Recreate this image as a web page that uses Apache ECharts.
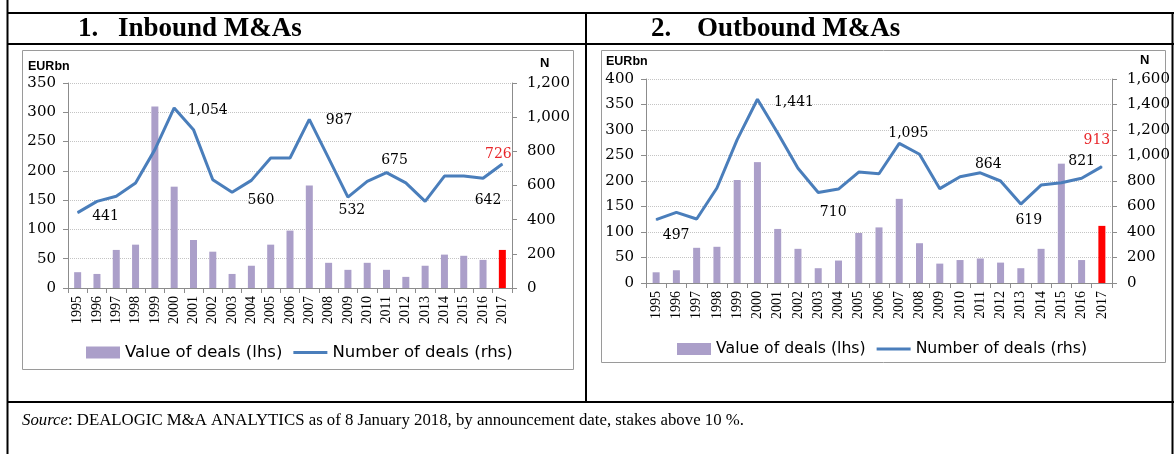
<!DOCTYPE html>
<html>
<head>
<meta charset="utf-8">
<script src="https://cdn.jsdelivr.net/npm/echarts@6/dist/echarts.min.js"></script>
<style>
  html, body { margin: 0; padding: 0; background: #fff; }
  #main { width: 1174px; height: 454px; }
</style>
</head>
<body>
<div id="main"></div>
<script>
var years = ['1995', '1996', '1997', '1998', '1999', '2000', '2001', '2002', '2003', '2004', '2005', '2006',
  '2007', '2008', '2009', '2010', '2011', '2012', '2013', '2014', '2015', '2016', '2017']

// 1. Inbound M&As
var inboundValue = [27, 24, 65, 74, 310, 173, 82, 62, 24, 38, 74, 98, 175, 43, 31, 43, 31, 19, 38, 57, 55, 48, 65]
var inboundNumber = [441, 507, 537, 615, 810, 1054, 927, 634, 560, 630, 761, 761, 987, 760, 532, 624, 675, 615, 507, 655, 655, 642, 726]

// 2. Outbound M&As
var outboundValue = [21, 25, 69, 71, 202, 237, 106, 67, 29, 44, 98, 109, 165, 78, 38, 45, 48, 40, 29, 67, 234, 45, 112]
var outboundNumber = [497, 554, 502, 745, 1124, 1441, 1176, 900, 710, 737, 870, 857, 1095, 1010, 740, 833, 864, 800, 619, 768, 786, 821, 913]

var titles = ['Inbound M&As', 'Outbound M&As']
var legendNames = ['Value of deals (lhs)', 'Number of deals (rhs)']

var BAR = '#ab9fc9'
var LINE = '#4a7ebb'
var RED = '#e8262a'
var lastIdx = years.length - 1

// which points carry a value label, and where it sits
var inboundLabels = {
  0: { position: 'right', offset: [9, 4] },
  5: { position: 'right', offset: [8, 2] },
  8: { position: 'right', offset: [10, 8] },
  12: { position: 'right', offset: [11, 1] },
  14: { position: 'bottom', offset: [4, 1] },
  16: { position: 'top', offset: [8, 0] },
  21: { position: 'bottom', offset: [5, 10] },
  22: { position: 'top', offset: [-4, 3], color: RED }
}
var outboundLabels = {
  0: { position: 'bottom', offset: [20, 3] },
  5: { position: 'right', offset: [11, 3] },
  8: { position: 'bottom', offset: [15, 7] },
  12: { position: 'top', offset: [9, 2] },
  16: { position: 'top', offset: [8, 4] },
  18: { position: 'bottom', offset: [8, 4] },
  21: { position: 'top', offset: [0, -4] },
  22: { position: 'top', offset: [-5, -14], color: RED }
}

function fmt(v) {
  return Number(v).toLocaleString('en-US')
}

function barData(values) {
  return values.map(function (v, i) {
    return i === lastIdx ? { value: v, itemStyle: { color: '#ff0000' } } : v
  })
}

function lineData(values, labels) {
  return values.map(function (v, i) {
    var l = labels[i]
    if (!l) return v
    return {
      value: v,
      label: {
        show: true,
        position: l.position,
        offset: l.offset,
        color: l.color || '#000',
        fontFamily: 'DejaVu Serif',
        fontSize: 14,
        formatter: function (p) { return fmt(p.value) }
      }
    }
  })
}

var numFont = { fontFamily: 'DejaVu Serif', fontSize: 15, color: '#000' }
var axisGray = '#8c8c8c'

function xAxis(gi) {
  return {
    type: 'category',
    gridIndex: gi,
    data: years,
    axisLine: { lineStyle: { color: axisGray } },
    axisTick: { show: true, length: 5, interval: 0, lineStyle: { color: axisGray } },
    axisLabel: { interval: 0, rotate: 90, margin: 8, fontFamily: 'Liberation Serif', fontSize: 14, color: '#000' }
  }
}

function yLeft(gi, max) {
  return {
    type: 'value',
    gridIndex: gi,
    min: 0,
    max: max,
    interval: 50,
    axisLine: { show: true, lineStyle: { color: axisGray } },
    axisTick: { show: true, length: 5, lineStyle: { color: axisGray } },
    axisLabel: Object.assign({ margin: 12 }, numFont),
    splitLine: { show: true, lineStyle: { color: '#c4c4c4', type: 'dotted' } }
  }
}

function yRight(gi, max) {
  return {
    type: 'value',
    gridIndex: gi,
    position: 'right',
    min: 0,
    max: max,
    interval: 200,
    axisLine: { show: true, lineStyle: { color: axisGray } },
    axisTick: { show: true, length: 5, lineStyle: { color: axisGray } },
    axisLabel: Object.assign({ margin: 15, formatter: fmt }, numFont),
    splitLine: { show: false }
  }
}

function legend(left, top, size) {
  return {
    left: left,
    top: top,
    padding: 0,
    itemWidth: 34,
    itemHeight: 12,
    itemGap: 11,
    data: [
      { name: legendNames[0], icon: 'rect' },
      { name: legendNames[1], icon: 'path://M0,0L34,0L34,3L0,3Z' }
    ],
    textStyle: { fontFamily: 'DejaVu Sans', fontSize: size, color: '#000' }
  }
}

function line(x1, y1, x2, y2) {
  return { type: 'line', shape: { x1: x1, y1: y1, x2: x2, y2: y2 }, style: { stroke: '#000', lineWidth: 2 }, silent: true }
}

function txt(x, y, text, font, extra) {
  return { type: 'text', x: x, y: y, style: Object.assign({ text: text, font: font, fill: '#000', textVerticalAlign: 'middle' }, extra || {}), silent: true }
}

function lineSeries(xi, yi, values, labels) {
  return {
    name: legendNames[1],
    type: 'line',
    xAxisIndex: xi,
    yAxisIndex: yi,
    symbol: 'circle',
    symbolSize: 1,
    showSymbol: true,
    lineStyle: { color: LINE, width: 3 },
    itemStyle: { color: LINE },
    data: lineData(values, labels)
  }
}

var myChart = echarts.init(document.getElementById('main'))
var option = {
  animation: false,
  backgroundColor: '#fff',
  grid: [
    { left: 68, top: 83, width: 444, height: 205 },
    { left: 646, top: 79, width: 466, height: 204 }
  ],
  legend: [legend(86, 344, 16.5), legend(677, 341, 15.7)],
  xAxis: [xAxis(0), xAxis(1)],
  yAxis: [yLeft(0, 350), yRight(0, 1200), yLeft(1, 400), yRight(1, 1600)],
  series: [
    { name: legendNames[0], type: 'bar', xAxisIndex: 0, yAxisIndex: 0, barWidth: 7, itemStyle: { color: BAR }, data: barData(inboundValue) },
    lineSeries(0, 1, inboundNumber, inboundLabels),
    { name: legendNames[0], type: 'bar', xAxisIndex: 1, yAxisIndex: 2, barWidth: 7, itemStyle: { color: BAR }, data: barData(outboundValue) },
    lineSeries(1, 3, outboundNumber, outboundLabels)
  ],
  graphic: [
    // table frame
    line(7.5, 0, 7.5, 454),
    line(1172.5, 13, 1172.5, 454),
    line(7, 13, 1174, 13),
    line(7, 44, 1174, 44),
    line(586, 13, 586, 402),
    line(7, 402, 1174, 402),
    // chart panels
    { type: 'rect', shape: { x: 22.5, y: 50.5, width: 551, height: 319 }, style: { fill: 'none', stroke: '#9a9a9a', lineWidth: 1 }, silent: true, z: -1 },
    { type: 'rect', shape: { x: 601.5, y: 50.5, width: 564, height: 312 }, style: { fill: 'none', stroke: '#9a9a9a', lineWidth: 1 }, silent: true, z: -1 },
    // titles
    txt(78, 29, '1.', 'bold 27px "Liberation Serif"'),
    txt(118, 29, titles[0], 'bold 27px "Liberation Serif"'),
    txt(651, 29, '2.', 'bold 27px "Liberation Serif"'),
    txt(697, 29, titles[1], 'bold 27px "Liberation Serif"'),
    // axis units
    txt(28, 67, 'EURbn', 'bold 12.5px "Liberation Sans"'),
    txt(540, 63, 'N', 'bold 13px "Liberation Sans"'),
    txt(606, 62, 'EURbn', 'bold 12.5px "Liberation Sans"'),
    txt(1140, 60, 'N', 'bold 13px "Liberation Sans"'),
    // source note
    {
      type: 'text', x: 22, y: 421, silent: true,
      style: {
        text: '{i|Source}: DEALOGIC M&A ANALYTICS as of 8 January 2018, by announcement date, stakes above 10 %.',
        font: '16.8px "Liberation Serif"',
        fill: '#000',
        textVerticalAlign: 'middle',
        rich: { i: { fontStyle: 'italic', fontFamily: 'Liberation Serif', fontSize: 16.8 } }
      }
    }
  ]
}
myChart.setOption(option)
</script>
</body>
</html>
